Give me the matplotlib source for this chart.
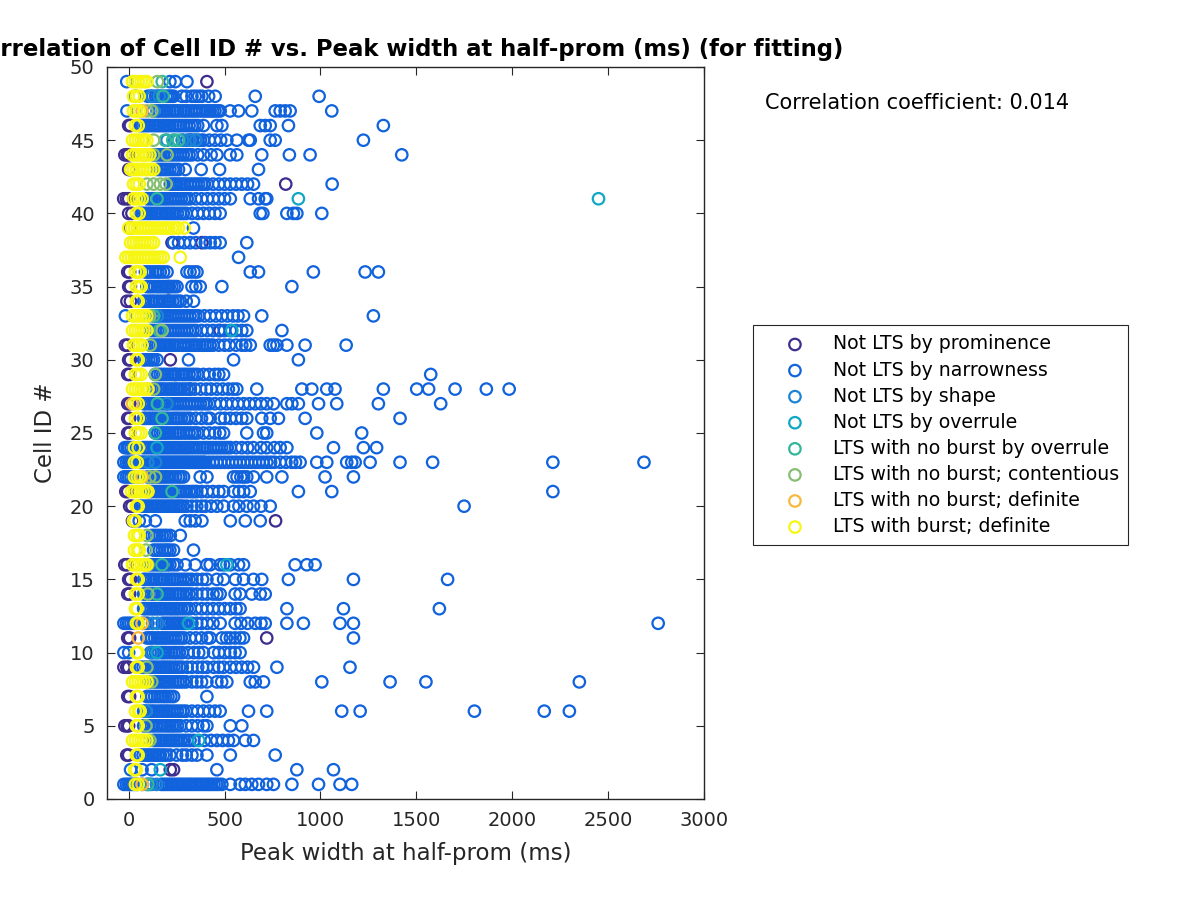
import matplotlib
matplotlib.use("Agg")
import matplotlib.pyplot as plt

plt.rcParams['font.family'] = ['DejaVu Sans']

title = "Correlation of Cell ID # vs. Peak width at half-prom (ms) (for fitting)"
xlabel = "Peak width at half-prom (ms)"
ylabel = "Cell ID #"
corr_text = "Correlation coefficient: 0.014"
xticks = [0, 500, 1000, 1500, 2000, 2500, 3000]
yticks = [0, 5, 10, 15, 20, 25, 30, 35, 40, 45, 50]

categories = ["Not LTS by prominence", "Not LTS by narrowness", "Not LTS by shape",
              "Not LTS by overrule", "LTS with no burst by overrule",
              "LTS with no burst; contentious", "LTS with no burst; definite",
              "LTS with burst; definite"]
colors = ["#3E2C8F", "#1062DD", "#1C84D5", "#10A7C5", "#33B79C", "#86BE72", "#F6B93E", "#F7F613"]

# Cell ID -> peak widths (ms)
prominence = {
    49: [408], 46: [0, 9], 45: [321], 44: [-20, -8, 0], 43: [0, 9], 42: [819], 41: [-26, -12, 0],
    40: [0, 17], 39: [9], 38: [226, 382], 36: [-5, 5], 35: [0, 9, 208], 34: [-9, 9, 208],
    32: [477], 31: [-17, -5], 30: [0, 9, 217], 29: [-5, 5, 243], 28: [321], 27: [-5, 5],
    26: [-5, 5], 25: [-5, 5], 24: [-5], 21: [-15, -5], 20: [5, 17], 19: [20, 30, 766],
    16: [-20, -8], 15: [0, 10], 14: [-5, 5], 11: [-5, 5, 720], 9: [-25, -10, 0], 7: [-5, 5],
    5: [-20, -8, 0], 3: [-10, 0], 2: [217, 234],
}

narrowness = {
    49: [-10, 215, 243, 304],
    48: [35, 100, 113, 125, 140, 152, 165, 180, 195, 205, 215, 225, 234, 278, 300, 330, 347,
         365, 382, 417, 451, 660, 993],
    47: [-9, 148, 160, 175, 188, 200, 215, 230, 242, 255, 270, 285, 298, 310, 325, 340, 355,
         370, 385, 400, 412, 425, 438, 450, 465, 477, 529, 573, 642, 764, 790, 816, 842, 1059],
    46: [60, 72, 85, 98, 110, 125, 140, 152, 165, 178, 190, 202, 215, 230, 245, 258, 270, 285,
         300, 315, 330, 345, 360, 390, 460, 486, 686, 712, 738, 833, 1328],
    45: [280, 304, 318, 330, 345, 360, 375, 390, 420, 450, 480, 512, 564, 625, 634, 738, 764,
         1224],
    44: [130, 142, 155, 168, 180, 195, 210, 225, 240, 255, 270, 285, 300, 315, 330, 360, 390,
         430, 460, 529, 564, 694, 838, 946, 1424],
    43: [148, 162, 175, 188, 200, 215, 230, 245, 260, 295, 378, 474, 677],
    42: [217, 230, 240, 252, 265, 278, 290, 305, 320, 335, 350, 365, 380, 395, 410, 440, 470,
         500, 530, 560, 590, 620, 651, 1061],
    41: [95, 108, 120, 135, 150, 162, 175, 188, 200, 215, 230, 245, 260, 275, 290, 305, 320,
         350, 380, 410, 440, 470, 500, 530, 634, 677, 712, 720],
    40: [60, 72, 85, 98, 110, 122, 135, 148, 160, 175, 190, 202, 215, 228, 240, 255, 270, 285,
         300, 330, 360, 390, 420, 450, 477, 686, 700, 825, 859, 877, 1007],
    39: [338],
    38: [234, 260, 290, 320, 350, 400, 425, 450, 477, 616],
    37: [573],
    36: [87, 98, 110, 125, 140, 152, 165, 182, 200, 304, 320, 340, 356, 634, 677, 963, 1233,
         1302],
    35: [95, 108, 120, 135, 150, 162, 175, 188, 200, 212, 225, 238, 252, 330, 350, 373, 486,
         851],
    34: [78, 90, 105, 118, 130, 145, 160, 175, 190, 202, 215, 230, 245, 258, 270, 300, 338],
    33: [-17, 130, 145, 160, 175, 190, 202, 215, 230, 245, 260, 275, 290, 305, 320, 335, 350,
         365, 395, 425, 455, 485, 515, 545, 570, 599, 694, 1276],
    32: [113, 126, 140, 155, 170, 185, 200, 215, 230, 245, 260, 275, 290, 305, 320, 335, 350,
         380, 410, 440, 470, 500, 530, 560, 590, 616, 799],
    31: [113, 126, 140, 152, 165, 178, 190, 202, 215, 228, 240, 255, 270, 285, 300, 315, 330,
         342, 355, 370, 385, 398, 410, 425, 440, 470, 500, 525, 560, 590, 610, 634, 738, 755,
         773, 825, 920, 1134],
    30: [78, 90, 105, 118, 130, 148, 312, 547, 885],
    29: [139, 152, 165, 178, 190, 205, 220, 232, 245, 260, 275, 288, 300, 315, 330, 345, 360,
         390, 420, 450, 470, 495, 1575],
    28: [130, 142, 155, 168, 180, 195, 210, 222, 235, 248, 260, 275, 290, 305, 320, 345, 375,
         405, 430, 460, 490, 520, 545, 564, 668, 903, 955, 1033, 1076, 1328, 1502, 1564, 1702,
         1865, 1984],
    27: [78, 90, 105, 118, 130, 142, 155, 170, 185, 198, 210, 225, 240, 255, 270, 285, 300,
         315, 330, 345, 360, 375, 390, 405, 420, 450, 480, 510, 540, 570, 600, 630, 660, 690,
         720, 755, 825, 851, 885, 990, 1085, 1302, 1627],
    26: [78, 90, 105, 118, 130, 142, 155, 168, 180, 192, 205, 220, 235, 248, 260, 275, 290,
         305, 320, 350, 380, 410, 425, 477, 500, 530, 560, 590, 616, 694, 738, 781, 920, 1415],
    25: [139, 152, 165, 178, 190, 202, 215, 230, 245, 258, 270, 285, 300, 315, 330, 345, 360,
         390, 420, 450, 475, 495, 616, 703, 720, 981, 1215],
    24: [-20, -8, 0, 12, 25, 75, 88, 100, 112, 125, 138, 150, 162, 175, 188, 200, 212, 225,
         238, 250, 262, 275, 288, 300, 312, 325, 340, 355, 370, 385, 398, 410, 425, 440, 455,
         470, 485, 500, 515, 530, 560, 590, 620, 650, 690, 720, 760, 790, 825, 1068, 1224, 1293],
    23: [-25, -12, 0, 10, 20, 60, 70, 80, 90, 110, 120, 130, 150, 160, 170, 180, 190, 200, 210,
         220, 230, 240, 250, 260, 270, 280, 290, 300, 310, 320, 330, 340, 350, 360, 370, 380,
         390, 400, 420, 440, 460, 480, 500, 520, 540, 560, 580, 600, 620, 640, 660, 680, 700,
         720, 740, 760, 790, 820, 850, 870, 894, 981, 1033, 1137, 1163, 1181, 1259, 1415, 1585,
         2212, 2687],
    22: [-25, -12, 0, 12, 25, 100, 112, 125, 138, 150, 162, 175, 188, 200, 215, 230, 245, 260,
         272, 286, 373, 408, 547, 565, 585, 600, 616, 651, 720, 799, 1024, 1172],
    21: [113, 126, 140, 152, 165, 178, 190, 202, 215, 230, 245, 258, 270, 285, 300, 315, 330,
         342, 355, 380, 410, 440, 470, 495, 547, 575, 600, 634, 885, 1059, 2212],
    20: [61, 72, 85, 98, 110, 122, 135, 148, 160, 172, 185, 198, 210, 222, 235, 248, 260, 272,
         285, 304, 330, 355, 380, 400, 430, 460, 495, 547, 575, 616, 651, 690, 738, 1749],
    19: [55, 87, 139, 295, 321, 347, 382, 530, 608, 686],
    18: [120, 134, 148, 162, 175, 188, 200, 217, 269],
    17: [130, 145, 160, 175, 190, 202, 215, 234, 338],
    16: [113, 126, 140, 152, 165, 178, 190, 202, 215, 234, 252, 295, 347, 408, 425, 477, 495,
         530, 573, 599, 868, 929, 972],
    15: [78, 90, 105, 118, 130, 145, 160, 172, 185, 200, 215, 228, 240, 255, 270, 285, 300,
         315, 330, 355, 385, 408, 460, 495, 556, 599, 651, 694, 833, 1172, 1663],
    14: [78, 90, 105, 118, 130, 145, 160, 175, 190, 202, 215, 230, 245, 258, 270, 285, 300,
         315, 330, 355, 385, 410, 440, 460, 477, 555, 581, 642, 686, 712],
    13: [78, 90, 105, 118, 130, 142, 155, 168, 180, 195, 210, 222, 235, 248, 260, 275, 290,
         305, 320, 350, 380, 410, 440, 470, 500, 530, 560, 581, 825, 1120, 1620],
    12: [-25, -12, 0, 12, 25, 75, 88, 100, 175, 188, 200, 212, 225, 238, 250, 262, 275, 288,
         300, 330, 355, 380, 410, 440, 477, 555, 585, 620, 660, 690, 712, 825, 911, 1102, 1172,
         2761],
    11: [95, 108, 120, 135, 150, 162, 175, 188, 200, 215, 230, 245, 260, 275, 290, 320, 350,
         380, 410, 425, 486, 510, 530, 555, 580, 599, 1172],
    10: [-25, 0, 113, 126, 140, 155, 170, 182, 195, 210, 225, 238, 250, 265, 280, 310, 340,
         365, 390, 443, 470, 500, 530, 555, 581],
    9: [61, 75, 90, 102, 115, 128, 140, 155, 170, 182, 195, 208, 220, 235, 250, 265, 280, 305,
        330, 360, 385, 408, 443, 470, 495, 530, 560, 590, 620, 651, 773, 1154],
    8: [113, 126, 140, 152, 165, 178, 190, 202, 215, 230, 245, 258, 270, 285, 300, 330, 355,
        380, 408, 460, 485, 512, 634, 660, 703, 1007, 1363, 1550, 2350],
    7: [95, 108, 120, 135, 150, 165, 180, 192, 205, 220, 234, 408],
    6: [78, 90, 105, 118, 130, 145, 160, 172, 185, 198, 210, 225, 240, 255, 270, 285, 300, 330,
        360, 390, 420, 450, 477, 625, 720, 1111, 1207, 1803, 2167, 2298],
    5: [78, 90, 105, 118, 130, 145, 160, 175, 190, 202, 215, 228, 240, 255, 270, 300, 330, 360,
        390, 408, 530, 590],
    4: [130, 142, 155, 168, 180, 195, 210, 222, 235, 248, 260, 275, 290, 305, 320, 340, 395,
        430, 460, 490, 520, 547, 608, 651],
    3: [60, 75, 90, 102, 115, 128, 140, 152, 165, 180, 195, 215, 250, 280, 300, 330, 356, 408,
        530, 764],
    2: [10, 70, 120, 460, 877, 1068],
    1: [-25, -12, 0, 10, 20, 32, 45, 95, 108, 170, 182, 195, 208, 220, 232, 245, 258, 270, 282,
        295, 308, 320, 332, 345, 358, 370, 382, 395, 408, 420, 432, 445, 458, 470, 486, 530,
        581, 608, 642, 677, 720, 755, 851, 990, 1102, 1163],
}

shape = {
    48: [120, 160], 47: [130], 45: [200, 240, 280, 320, 350], 24: [50], 23: [100, 140],
    12: [125, 150], 10: [120], 6: [90], 1: [70, 120, 145], 22: [50], 33: [150], 27: [200],
}

overrule = {
    41: [885, 2450], 32: [538], 24: [148], 16: [512], 12: [312], 10: [148], 4: [365], 2: [165],
}

lts_overrule = {
    49: [175], 48: [180], 45: [190, 230, 260], 41: [148], 33: [130], 32: [160], 27: [150],
    26: [174], 25: [139], 21: [226], 16: [174], 14: [148], 1: [100],
}

contentious = {
    49: [150], 47: [95, 120], 45: [130], 44: [130, 200], 42: [95, 130, 165, 195], 33: [110],
    32: [174], 31: [113], 29: [139], 28: [130], 22: [110, 140], 18: [95], 17: [90], 16: [100],
    14: [100], 9: [95], 8: [100, 120], 5: [90], 4: [110],
}

definite = {
    47: [70], 45: [80], 44: [80], 27: [20], 22: [70], 16: [90], 11: [50], 1: [70], 28: [100],
    12: [70], 21: [100],
}

burst = {
    49: [20, 35, 50, 65, 80, 95], 48: [25, 40, 55], 47: [25, 40, 55], 46: [35, 50],
    45: [20, 35, 50, 65, 80, 95], 44: [20, 35, 50, 65, 80, 95, 110],
    43: [10, 25, 40, 55, 70, 85, 100, 115, 130], 42: [25, 40, 55], 41: [25, 40, 55, 70],
    40: [40, 55],
    39: [0, 15, 30, 45, 60, 75, 90, 105, 120, 135, 150, 165, 180, 195, 210, 225, 245, 260, 290],
    38: [10, 25, 40, 55, 70, 85, 100, 115, 130],
    37: [-15, 0, 15, 30, 45, 60, 75, 90, 105, 120, 135, 150, 165, 180, 269],
    36: [35, 50, 60], 35: [40, 55, 65], 34: [40, 50], 33: [20, 35, 50, 65, 80, 95],
    32: [20, 35, 50, 65, 80, 95], 31: [25, 40, 55, 70], 30: [40, 50], 29: [35, 50, 65],
    28: [20, 35, 50, 65, 80, 100], 27: [35, 50], 26: [35, 50], 25: [35, 50, 65], 24: [30, 50],
    23: [30, 45], 22: [30, 45, 60], 21: [15, 30, 45, 60, 75, 90, 100], 20: [40, 50],
    19: [25, 35], 18: [30, 45, 55], 17: [30, 45, 55], 16: [20, 35, 50, 65, 80, 95], 15: [40, 50],
    14: [35, 50], 13: [35, 45], 12: [40, 50], 10: [40, 50], 9: [40, 50],
    8: [20, 35, 50, 65, 80, 95], 7: [40, 50], 6: [35, 50, 60], 5: [40, 50],
    4: [20, 35, 50, 65, 80, 95], 3: [40, 50], 2: [30, 40], 1: [35, 50],
}

series = [prominence, narrowness, shape, overrule, lts_overrule, contentious, definite, burst]

fig = plt.figure(figsize=(12, 9), dpi=100)
ax = fig.add_axes([107 / 1200, 101 / 900, 597 / 1200, 732 / 900])

for name, col, data in zip(categories, colors, series):
    xs, ys = [], []
    for cid, vals in data.items():
        for v in vals:
            xs.append(v)
            ys.append(cid)
    ax.scatter(xs, ys, s=68, facecolors='none', edgecolors=col, linewidths=1.6, label=name)

ax.set_xlim(-113, 3000)
ax.set_ylim(0, 50)
ax.set_xticks(xticks)
ax.set_yticks(yticks)
ax.tick_params(direction='in', top=True, right=True, length=6, labelsize=14, pad=9,
               colors='#262626', labelcolor='#262626')
for sp in ax.spines.values():
    sp.set_color('#262626')
    sp.set_linewidth(1.0)
ax.set_xlabel(xlabel, fontsize=16.5, color='#262626', labelpad=8)
ax.set_ylabel(ylabel, fontsize=16.5, color='#262626', labelpad=9)
ax.set_title(title, fontsize=16.4, fontweight='bold', pad=8)

fig.text(765 / 1200, 1 - 103 / 900, corr_text, fontsize=15, va='center', ha='left')

leg = ax.legend(loc='upper left', bbox_to_anchor=(753 / 1200, 1 - 325 / 900),
                bbox_transform=fig.transFigure, fontsize=13.6, frameon=True, fancybox=False,
                edgecolor='#262626', framealpha=1, scatterpoints=1, borderpad=0.5,
                labelspacing=0.375, handletextpad=0.29, borderaxespad=0, handlelength=3.44)
leg.get_frame().set_linewidth(0.8)

fig.savefig("out.png", dpi=100)
